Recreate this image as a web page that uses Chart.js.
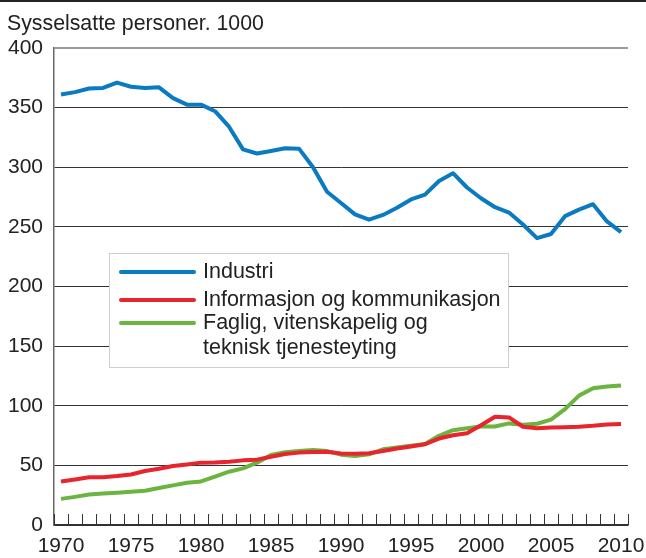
<!DOCTYPE html>
<html>
<head>
<meta charset="utf-8">
<script src="https://cdn.jsdelivr.net/npm/chart.js@4.4.1/dist/chart.umd.min.js"></script>
<style>
  html, body { margin: 0; padding: 0; background: #fff; }
  #wrap { position: relative; width: 646px; height: 558px; }
  #topline { position: absolute; left: 0; top: 0; width: 646px; height: 2px; background: #222; }
  canvas { position: absolute; left: 0; top: 0; }
</style>
</head>
<body>
<div id="wrap">
  <canvas id="c" width="646" height="558"></canvas>
  <div id="topline"></div>
</div>
<script>
const titleText = 'Sysselsatte personer. 1000';
const years = ['1970','1971','1972','1973','1974','1975','1976','1977','1978','1979',
  '1980','1981','1982','1983','1984','1985','1986','1987','1988','1989',
  '1990','1991','1992','1993','1994','1995','1996','1997','1998','1999',
  '2000','2001','2002','2003','2004','2005','2006','2007','2008','2009','2010'];
const industri = [361, 363, 366, 366.5, 371, 367.5, 366.5, 367, 358, 352.5,
  352.5, 347, 334, 315, 311.5, 313.7, 316, 315.6, 300, 279.5,
  270, 260.5, 256, 260, 266, 273, 277, 288.5, 295, 283,
  274, 266.5, 262, 252, 240.6, 244, 259, 264.5, 269, 254.6, 245.6];
const informasjon = [36.5, 38.2, 40, 40, 41, 42.4, 45.3, 47.2, 49.5, 50.8,
  52.3, 52.5, 53, 54.2, 54.8, 57.2, 59.5, 60.7, 61.3, 61.4,
  60, 59.7, 60.1, 62.1, 64.1, 65.8, 67.7, 72.5, 75.3, 77,
  83.7, 90.8, 90.2, 82.4, 81.2, 81.8, 82, 82.4, 83.2, 84.3, 84.6];
const faglig = [21.9, 23.6, 25.5, 26.4, 27, 27.8, 28.7, 31, 33.2, 35.4,
  36.5, 40.5, 44.7, 47.5, 52.3, 58.8, 61, 62, 62.8, 62,
  59, 57.9, 59.3, 63.5, 64.9, 66.4, 68, 74.8, 79.5, 81.2,
  82.6, 82.6, 85.2, 84, 84.9, 88.3, 97.2, 108.5, 114.7, 116.1, 117];
const seriesNames = ['Industri', 'Informasjon og kommunikasjon', 'Faglig, vitenskapelig og teknisk tjenesteyting'];
const legendLines = [['Industri'], ['Informasjon og kommunikasjon'], ['Faglig, vitenskapelig og', 'teknisk tjenesteyting']];
const yTicks = [0, 50, 100, 150, 200, 250, 300, 350, 400];

const FONT = '"Liberation Sans", Arial, Helvetica, sans-serif';
const TEXT = '#222';
const colors = ['#0a7bc1', '#e8242c', '#6ab43f'];

const extras = {
  id: 'extras',
  beforeDatasetsDraw(chart) {
    const ctx = chart.ctx, x = chart.scales.x, area = chart.chartArea;
    const half = (x.getPixelForValue(1) - x.getPixelForValue(0)) / 2;
    ctx.save();
    ctx.strokeStyle = '#333';
    ctx.lineWidth = 1;
    for (let i = 0; i <= years.length; i++) {
      const px = Math.round(x.getPixelForValue(i) - half) + 0.5;
      ctx.beginPath();
      ctx.moveTo(px, area.bottom);
      ctx.lineTo(px, area.bottom - 11);
      ctx.stroke();
    }
    ctx.restore();
  },
  afterDatasetsDraw(chart) {
    const ctx = chart.ctx;
    ctx.save();
    ctx.fillStyle = TEXT;
    ctx.font = '21.3px ' + FONT;
    ctx.textAlign = 'left';
    ctx.textBaseline = 'alphabetic';
    ctx.fillText(titleText, 7, 30);
    ctx.fillStyle = '#fff';
    ctx.fillRect(109, 253, 400, 115);
    ctx.strokeStyle = '#cfcfcf';
    ctx.lineWidth = 1;
    ctx.strokeRect(109.5, 253.5, 399, 114);
    const rows = [272, 300, 323];
    legendLines.forEach((lines, i) => {
      const ds = chart.data.datasets.find(d => d.label === seriesNames[i]);
      ctx.strokeStyle = ds.borderColor;
      ctx.lineWidth = 4;
      ctx.lineCap = 'round';
      ctx.beginPath();
      ctx.moveTo(121, rows[i]);
      ctx.lineTo(194, rows[i]);
      ctx.stroke();
      ctx.fillStyle = TEXT;
      ctx.font = '21.5px ' + FONT;
      ctx.textBaseline = 'middle';
      lines.forEach((t, j) => ctx.fillText(t, 203, rows[i] + j * 25));
    });
    ctx.restore();
  }
};

new Chart(document.getElementById('c'), {
  type: 'line',
  data: {
    labels: years,
    datasets: [
      { label: seriesNames[0], data: industri, borderColor: colors[0], order: 2 },
      { label: seriesNames[1], data: informasjon, borderColor: colors[1], order: 0 },
      { label: seriesNames[2], data: faglig, borderColor: colors[2], order: 1 }
    ]
  },
  options: {
    responsive: false,
    animation: false,
    devicePixelRatio: 1,
    layout: { padding: { top: 48, right: 18, left: 0, bottom: 0 } },
    elements: {
      line: { borderWidth: 4, tension: 0, borderJoinStyle: 'round', fill: false },
      point: { radius: 0, hoverRadius: 0 }
    },
    plugins: { legend: { display: false }, tooltip: { enabled: false }, title: { display: false } },
    scales: {
      x: {
        type: 'category',
        offset: true,
        grid: { display: false, offset: true },
        border: { display: true, color: '#333', width: 1.5 },
        ticks: {
          autoSkip: false, maxRotation: 0, padding: 1,
          color: TEXT, font: { family: FONT, size: 21 },
          callback: function (v, i) { const y = years[i]; return (+y) % 5 === 0 ? y : ''; }
        },
        afterFit(s) { s.height = 33; s.paddingLeft = 0; s.paddingRight = 0; }
      },
      y: {
        min: 0, max: 400,
        afterBuildTicks(s) { s.ticks = yTicks.map(v => ({ value: v })); },
        grid: {
          drawTicks: false,
          color: c => (c.tick && c.tick.value === 400) ? '#9a9a9a' : '#333',
          lineWidth: c => (c.tick && c.tick.value === 400) ? 2 : 1
        },
        border: { display: true, color: '#666', width: 1.5 },
        ticks: { padding: 11, color: TEXT, font: { family: FONT, size: 21 } },
        afterFit(s) { s.width = 54; s.paddingTop = 0; s.paddingBottom = 0; }
      }
    }
  },
  plugins: [extras]
});
</script>
</body>
</html>
